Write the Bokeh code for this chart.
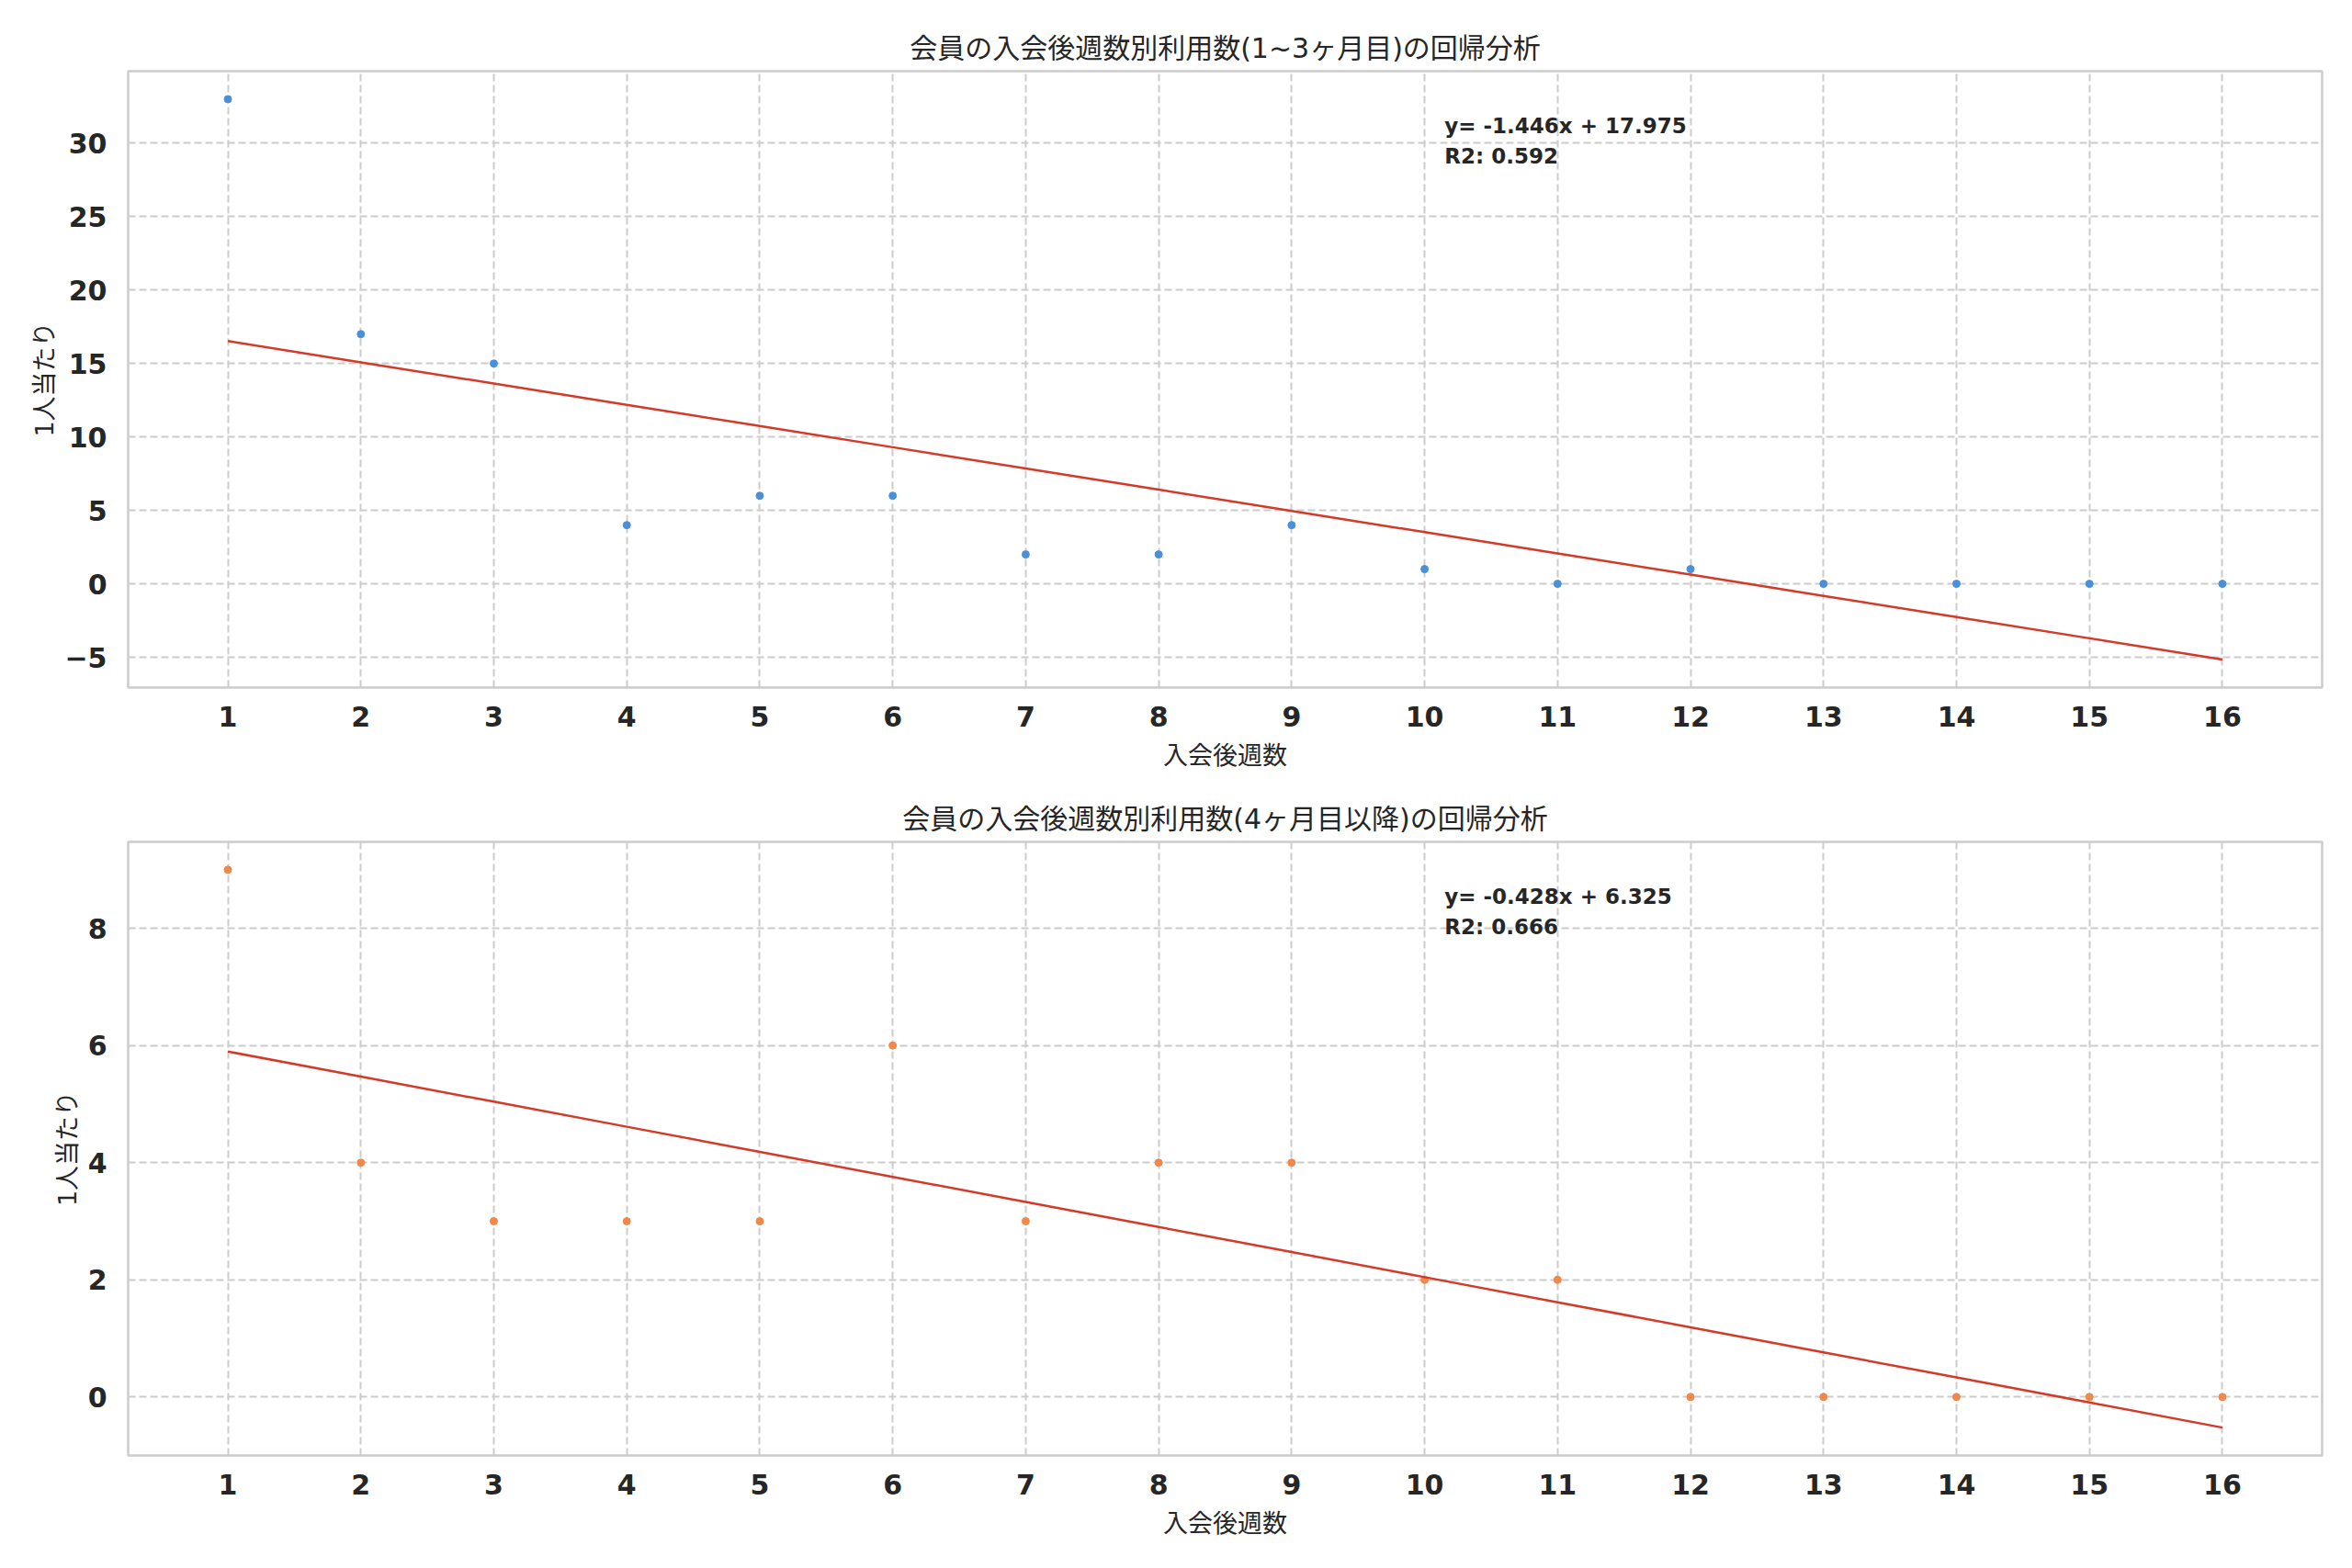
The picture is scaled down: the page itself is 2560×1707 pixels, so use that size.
import numpy as np
from bokeh.plotting import figure
from bokeh.layouts import column
from bokeh.models import FixedTicker, ColumnDataSource, Title
from bokeh.core.properties import value
from bokeh.embed import file_html
from bokeh.resources import INLINE

# ---- data ----
weeks = list(range(1, 17))
counts_early = [33, 17, 15, 4, 6, 6, 2, 2, 4, 1, 0, 1, 0, 0, 0, 0]
counts_late = [9, 4, 3, 3, 3, 6, 3, 4, 4, 2, 2, 0, 0, 0, 0, 0]
title_early = "会員の入会後週数別利用数(1~3ヶ月目)の回帰分析"
title_late = "会員の入会後週数別利用数(4ヶ月目以降)の回帰分析"
x_label = "入会後週数"
y_label = "1人当たり"
yticks_early = [-5, 0, 5, 10, 15, 20, 25, 30]
yticks_late = [0, 2, 4, 6, 8]

FONT = "DejaVu Sans, Noto Sans CJK JP"
TXT = "#262626"
GRID = "#cccccc"


def make_panel(x, y, color, title, yticks, height, top, bottom, ylab_standoff):
    x = np.array(x, dtype=float)
    y = np.array(y, dtype=float)
    slope, intercept = np.polyfit(x, y, 1)
    fit = slope * x + intercept
    r2 = 1 - np.sum((y - fit) ** 2) / np.sum((y - y.mean()) ** 2)

    lo = min(y.min(), fit.min())
    hi = max(y.max(), fit.max())
    pad = 0.05 * (hi - lo)
    ymin, ymax = lo - pad, hi + pad
    xpad = 0.05 * (x.max() - x.min())
    xmin, xmax = x.min() - xpad, x.max() + xpad

    p = figure(width=2544, height=height, x_range=(xmin, xmax), y_range=(ymin, ymax),
               output_backend="svg", toolbar_location=None,
               min_border_left=139, min_border_right=17,
               min_border_top=top, min_border_bottom=bottom)
    p.background_fill_color = "white"
    p.border_fill_color = "white"
    p.outline_line_color = GRID
    p.outline_line_width = 2.5

    p.title = Title(text=title, align="center", text_font=FONT, text_font_size="30px",
                    text_font_style="normal", text_color=TXT, standoff=16)

    for ax in (p.xaxis[0], p.yaxis[0]):
        ax.axis_line_color = None
        ax.major_tick_line_color = None
        ax.minor_tick_line_color = None
        ax.major_label_text_font = FONT
        ax.major_label_text_font_size = "30px"
        ax.major_label_text_font_style = "bold"
        ax.major_label_text_color = TXT
        ax.axis_label_text_font = FONT
        ax.axis_label_text_font_size = "27px"
        ax.axis_label_text_font_style = "normal"
        ax.axis_label_text_color = TXT

    p.xaxis.ticker = FixedTicker(ticks=list(x.astype(int)))
    p.xaxis.major_label_standoff = 14
    p.xaxis.axis_label = x_label
    p.xaxis.axis_label_standoff = 13

    p.yaxis.ticker = FixedTicker(ticks=yticks)
    p.yaxis.major_label_overrides = {t: ("\u2212" + str(-t)) for t in yticks if t < 0}
    p.yaxis.major_label_standoff = 17
    p.yaxis.axis_label = y_label
    p.yaxis.axis_label_standoff = ylab_standoff

    for g in (p.xgrid[0], p.ygrid[0]):
        g.grid_line_color = GRID
        g.grid_line_width = 2
        g.grid_line_dash = "8 4"

    p.scatter(x, y, size=8, color=color, line_color=color)
    p.line(x, fit, line_color="#d43a28", line_width=2.5)

    ax_x = xmin + 0.6 * (xmax - xmin)
    src = ColumnDataSource(dict(
        x=[ax_x, ax_x],
        y=[ymin + 0.911 * (ymax - ymin), ymin + 0.862 * (ymax - ymin)],
        t=[f"y= {slope:.3f}x + {intercept:.3f}", f"R2: {r2:.3f}"],
    ))
    p.text(x="x", y="y", text="t", source=src, text_font=value("DejaVu Sans"),
           text_font_size="23px", text_font_style="bold", text_color=TXT,
           text_baseline="alphabetic", text_align="left")
    return p


p1 = make_panel(weeks, counts_early, "#4a90d9", title_early, yticks_early, 853, 77, 105, 3)
p2 = make_panel(weeks, counts_late, "#f0884a", title_late, yticks_late, 838, 63, 107, 4)

layout = column(p1, p2, spacing=0)
open("out.html", "w").write(file_html(layout, INLINE))
